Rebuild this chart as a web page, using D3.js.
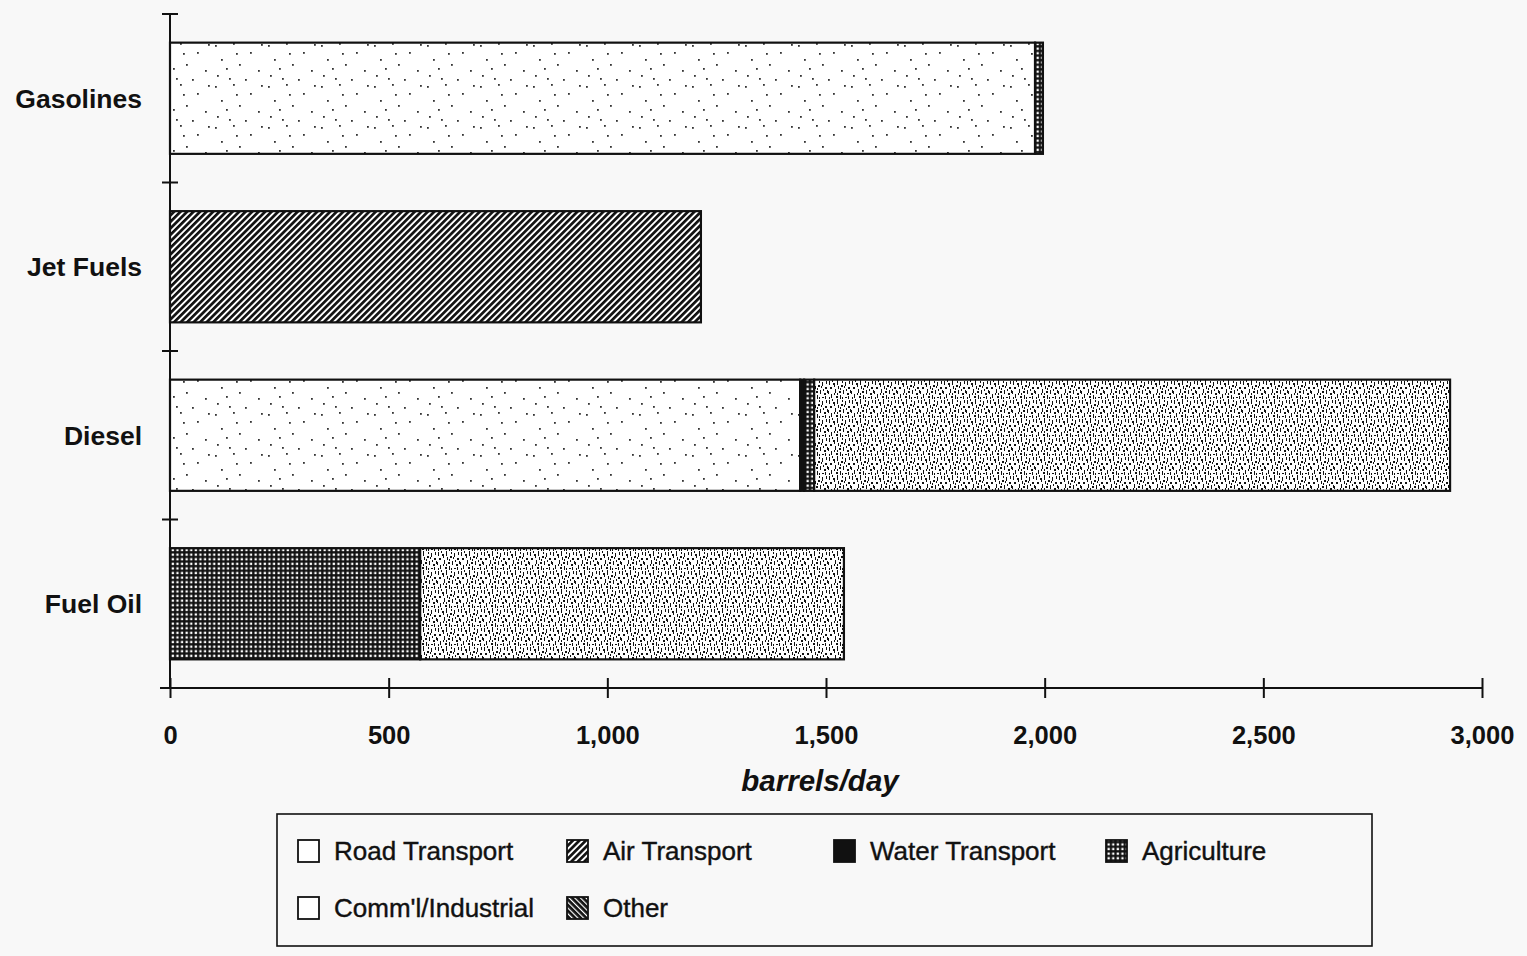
<!DOCTYPE html>
<html>
<head>
<meta charset="utf-8">
<script src="https://cdn.jsdelivr.net/npm/d3@7"></script>
<style>
  html, body { margin: 0; padding: 0; background: #f8f8f8; }
  svg { display: block; font-family: "Liberation Sans", Arial, sans-serif; }
</style>
</head>
<body>
<svg id="chart" width="1527" height="956"></svg>
<script>
// Product categories (top to bottom) and end-use sectors (stack order)
const categories = ["Gasolines", "Jet Fuels", "Diesel", "Fuel Oil"];
const sectors = ["Road Transport", "Air Transport", "Water Transport", "Agriculture", "Comm'l/Industrial", "Other"];

// barrels/day by sector, one value per category
const roadTransport   = [1978, 0,    1441, 0];
const airTransport    = [0,    1214, 0,    0];
const waterTransport  = [0,    0,    9,    0];
const agriculture     = [18,   0,    23,   572];
const commIndustrial  = [0,    0,    1454, 969];
const otherUse        = [0,    0,    0,    0];

const xTicks = [0, 500, 1000, 1500, 2000, 2500, 3000];

const rows = categories.map((c, i) => ({
  category: c,
  "Road Transport": roadTransport[i],
  "Air Transport": airTransport[i],
  "Water Transport": waterTransport[i],
  "Agriculture": agriculture[i],
  "Comm'l/Industrial": commIndustrial[i],
  "Other": otherUse[i]
}));

const svg = d3.select("#chart");
const margin = { left: 170, top: 14 };

const x = d3.scaleLinear().domain([0, 3000]).range([margin.left, 1482]);
const y = d3.scaleBand().domain(categories).range([margin.top, 688]).paddingInner(0.34).paddingOuter(0.17);

// ---- fill patterns ----
const defs = svg.append("defs");

// sparse speckle for road transport
const pRoad = defs.append("pattern").attr("id", "p-road").attr("patternUnits", "userSpaceOnUse")
  .attr("width", 53).attr("height", 41);
pRoad.append("rect").attr("width", 53).attr("height", 41).attr("fill", "#fff");
[[3,4],[21,2],[38,11],[9,18],[27,23],[46,29],[5,34],[17,37],[33,38],[24,12],[49,3],[14,27]].forEach(([a,b]) =>
  pRoad.append("rect").attr("x", a).attr("y", b).attr("width", 1.8).attr("height", 1.8).attr("fill", "#333"));

// diagonal hatch for air transport
const pAir = defs.append("pattern").attr("id", "p-air").attr("patternUnits", "userSpaceOnUse")
  .attr("width", 4.6).attr("height", 4.6).attr("patternTransform", "rotate(45)");
pAir.append("rect").attr("width", 4.6).attr("height", 4.6).attr("fill", "#fff");
pAir.append("rect").attr("width", 2.7).attr("height", 4.6).attr("fill", "#111");

// reverse hatch for other
const pOther = defs.append("pattern").attr("id", "p-other").attr("patternUnits", "userSpaceOnUse")
  .attr("width", 4).attr("height", 4).attr("patternTransform", "rotate(-45)");
pOther.append("rect").attr("width", 4).attr("height", 4).attr("fill", "#111");
pOther.append("rect").attr("width", 1.2).attr("height", 4).attr("fill", "#fff");

// black grid with white holes for agriculture
const pAg = defs.append("pattern").attr("id", "p-ag").attr("patternUnits", "userSpaceOnUse")
  .attr("width", 4.6).attr("height", 4.6);
pAg.append("rect").attr("width", 4.6).attr("height", 4.6).attr("fill", "#111");
pAg.append("rect").attr("x", 1.5).attr("y", 1.5).attr("width", 2.3).attr("height", 2.3).attr("fill", "#fff");

// dense stipple for commercial/industrial
const pComm = defs.append("pattern").attr("id", "p-comm").attr("patternUnits", "userSpaceOnUse")
  .attr("width", 23).attr("height", 19);
pComm.append("rect").attr("width", 23).attr("height", 19).attr("fill", "#fff");
[[1,1,1,4],[5,3,2,2],[9,0,1,5],[13,5,2,2],[17,2,1,4],[20,7,2,2],[2,7,2,2],[7,9,1,4],
 [11,11,2,2],[15,10,1,4],[19,13,2,2],[3,14,1,4],[8,16,2,2],[12,15,1,4],[17,17,2,1],
 [21,1,1,3],[6,13,1,2],[14,1,1,2],[0,11,1,3],[10,6,1,3],[22,10,1,3],[16,6,1,2],
 [4,0,1,2],[18,9,1,2],[6,5,1,2],[12,8,1,2],[20,16,1,3],[1,17,1,2],[9,13,1,2],[14,17,1,2]].forEach(([a,b,w,h]) =>
  pComm.append("rect").attr("x", a).attr("y", b).attr("width", w).attr("height", h).attr("fill", "#111"));

const fills = {
  "Road Transport": "url(#p-road)",
  "Air Transport": "url(#p-air)",
  "Water Transport": "#111",
  "Agriculture": "url(#p-ag)",
  "Comm'l/Industrial": "url(#p-comm)",
  "Other": "url(#p-other)"
};

// ---- stacked bars ----
const stack = d3.stack().keys(sectors)(rows);
const layers = svg.append("g").selectAll("g").data(stack).join("g")
  .attr("fill", d => fills[d.key]);
layers.selectAll("rect").data(d => d.filter(s => s[1] - s[0] > 0)).join("rect")
  .attr("x", d => x(d[0]))
  .attr("y", d => y(d.data.category))
  .attr("width", d => x(d[1]) - x(d[0]))
  .attr("height", y.bandwidth())
  .attr("stroke", "#111")
  .attr("stroke-width", 2.2);

// ---- axes ----
const axisColor = "#111";
// y axis line with ticks at band boundaries
const yAxisG = svg.append("g");
yAxisG.append("line").attr("x1", x(0)).attr("x2", x(0)).attr("y1", margin.top).attr("y2", 688)
  .attr("stroke", axisColor).attr("stroke-width", 2);
const bounds = categories.map(c => y(c) - y.step() * y.paddingInner() / 2).concat([688]);
yAxisG.selectAll(".yt").data(bounds).join("line")
  .attr("x1", x(0) - 8).attr("x2", x(0) + 8)
  .attr("y1", d => d).attr("y2", d => d)
  .attr("stroke", axisColor).attr("stroke-width", 2);

yAxisG.selectAll(".yl").data(categories).join("text")
  .attr("x", 142).attr("y", d => y(d) + y.bandwidth() / 2)
  .attr("dy", "0.35em")
  .attr("text-anchor", "end")
  .attr("font-weight", "bold")
  .attr("font-size", 26.5)
  .attr("fill", "#111")
  .text(d => d);

// x axis
const xAxis = d3.axisBottom(x).tickValues(xTicks).tickSize(10).tickFormat(d3.format(","));
const xg = svg.append("g").attr("transform", "translate(0,688)").call(xAxis);
xg.select(".domain").attr("d", `M${x(0) - 10},0H${x(3000)}`).attr("stroke", axisColor).attr("stroke-width", 2);
xg.selectAll(".tick line").attr("y1", -10).attr("y2", 10).attr("stroke", axisColor).attr("stroke-width", 2);
xg.selectAll(".tick text")
  .attr("y", 47).attr("dy", "0.35em")
  .attr("font-size", 25.5).attr("font-weight", "bold")
  .attr("font-family", "'Liberation Sans', Arial, sans-serif")
  .attr("fill", "#111");

svg.append("text")
  .attr("x", 820).attr("y", 781).attr("dy", "0.35em")
  .attr("text-anchor", "middle")
  .attr("font-size", 29.5).attr("font-weight", "bold").attr("font-style", "italic")
  .attr("fill", "#111")
  .text("barrels/day");

// ---- legend ----
const legend = svg.append("g");
legend.append("rect").attr("x", 277).attr("y", 814).attr("width", 1095).attr("height", 132)
  .attr("fill", "#f8f8f8").attr("stroke", "#111").attr("stroke-width", 1.6);

const legendPos = [
  [298, 851], [567, 851], [834, 851], [1106, 851],
  [298, 908], [567, 908]
];
const legendFills = Object.assign({}, fills, { "Road Transport": "#fff", "Comm'l/Industrial": "#fff" });
const items = legend.selectAll(".li").data(sectors).join("g")
  .attr("transform", (d, i) => `translate(${legendPos[i][0]},${legendPos[i][1]})`);
items.append("rect")
  .attr("x", 0).attr("y", -11).attr("width", 21).attr("height", 22)
  .attr("fill", d => legendFills[d])
  .attr("stroke", "#111").attr("stroke-width", 1.8);
items.append("text")
  .attr("x", 36).attr("dy", "0.35em")
  .attr("font-size", 26)
  .attr("fill", "#111")
  .attr("stroke", "#111").attr("stroke-width", 0.4)
  .text(d => d);
</script>
</body>
</html>
